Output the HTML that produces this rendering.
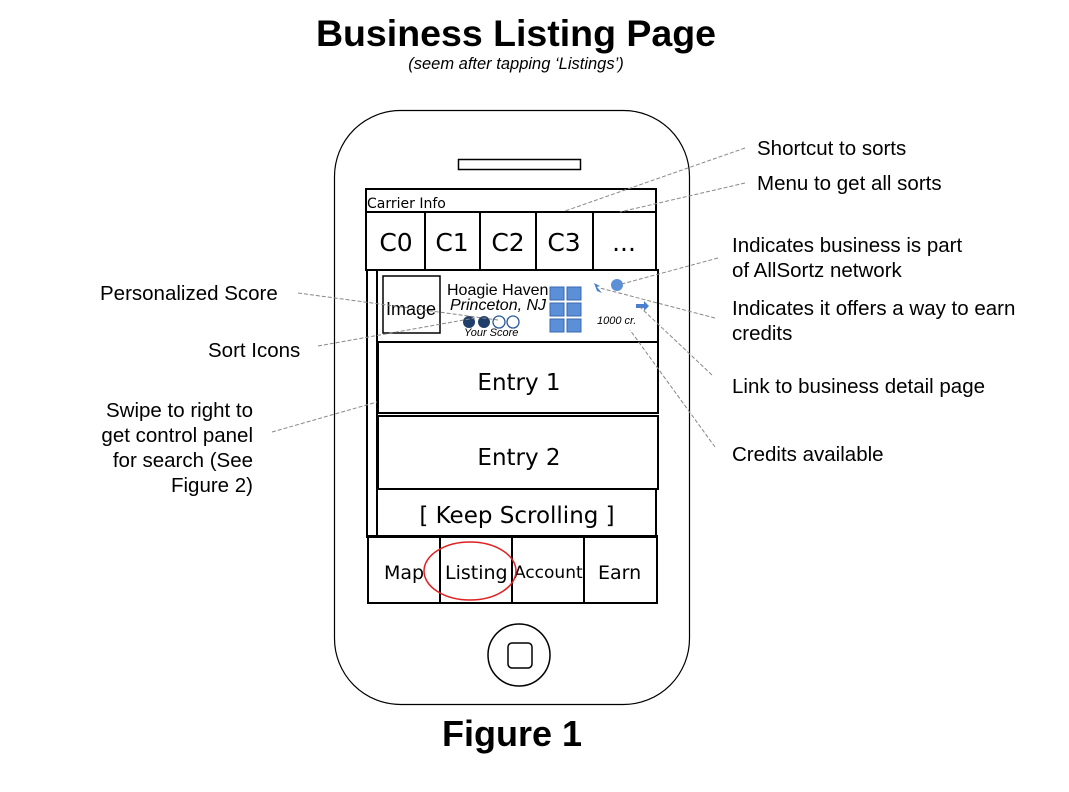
<!DOCTYPE html>
<html><head><meta charset="utf-8"><style>
html,body{margin:0;padding:0;background:#fff;}
svg{display:block;font-family:"Liberation Sans",Arial,sans-serif;}
.l{stroke:#888;stroke-width:1;stroke-dasharray:4,2;fill:none;}
.b{stroke:#000;stroke-width:2;fill:none;}
.t{font-size:20.5px;fill:#000;}
</style></head><body>
<svg width="1069" height="792" viewBox="0 0 1069 792">
<rect width="1069" height="792" fill="#fff"/>
<text x="516" y="46" text-anchor="middle" font-size="37.5" font-weight="bold">Business Listing Page</text>
<text x="516" y="69" text-anchor="middle" font-size="16.5" font-style="italic">(seem after tapping ‘Listings’)</text>
<!-- phone -->
<rect x="334.5" y="110.5" width="355" height="594" rx="66" fill="none" stroke="#000" stroke-width="1.2"/>
<rect x="458.5" y="159.5" width="122" height="10" fill="none" stroke="#000" stroke-width="1.5"/>
<circle cx="519" cy="655" r="31" fill="none" stroke="#000" stroke-width="1.5"/>
<rect x="508" y="643" width="24" height="25" rx="4" fill="none" stroke="#000" stroke-width="1.5"/>
<!-- carrier -->
<rect x="366" y="189" width="290" height="23" class="b"/>
<text x="367" y="208" font-size="14" font-family="DejaVu Sans, sans-serif">Carrier Info</text>
<rect x="366" y="212" width="290" height="58" class="b"/>
<path d="M425 212V270M480 212V270M536 212V270M593 212V270" class="b"/>
<g font-size="25" text-anchor="middle" font-family="DejaVu Sans, sans-serif">
<text x="396" y="251">C0</text><text x="452" y="251">C1</text><text x="508" y="251">C2</text><text x="564" y="251">C3</text><text x="624" y="251">...</text></g>
<!-- side bar -->
<rect x="367" y="270" width="10" height="267" class="b"/>
<!-- listing row -->
<rect x="377" y="270" width="281" height="72" class="b"/>
<rect x="383" y="276" width="57" height="57" fill="none" stroke="#000" stroke-width="1.5"/>
<text x="386" y="315" font-size="18">Image</text>
<text x="447" y="295" font-size="16">Hoagie Haven</text>
<text x="450" y="310" font-size="16" font-style="italic">Princeton, NJ</text>
<circle cx="469" cy="322" r="6" fill="#1f3f6a"/><circle cx="484" cy="322" r="6" fill="#1f3f6a"/>
<circle cx="499" cy="322" r="6" fill="none" stroke="#2a5a9a" stroke-width="1.3"/><circle cx="513" cy="322" r="6" fill="none" stroke="#2a5a9a" stroke-width="1.3"/>
<text x="464" y="336" font-size="11" font-style="italic">Your Score</text>
<g fill="#5b8fd8" stroke="#3a6ab0" stroke-width="1">
<rect x="550" y="287" width="14" height="13"/><rect x="567" y="287" width="14" height="13"/>
<rect x="550" y="303" width="14" height="13"/><rect x="567" y="303" width="14" height="13"/>
<rect x="550" y="319" width="14" height="13"/><rect x="567" y="319" width="14" height="13"/></g>
<path d="M594 283l6 3-3 1 5 6-5-2z" fill="#4a7fd0"/>
<circle cx="617" cy="285" r="6" fill="#5b8fd8"/>
<path d="M636 304h8v-3l5 5-5 5v-3h-8z" fill="#4a7fd0"/>
<text x="597" y="324" font-size="11" font-style="italic">1000 cr.</text>
<!-- entries -->
<rect x="378" y="342" width="280" height="71" class="b"/>
<text x="519" y="390" text-anchor="middle" font-size="23" font-family="DejaVu Sans, sans-serif">Entry 1</text>
<rect x="378" y="416" width="280" height="73" class="b"/>
<text x="519" y="465" text-anchor="middle" font-size="23" font-family="DejaVu Sans, sans-serif">Entry 2</text>
<rect x="377" y="489" width="279" height="48" class="b"/>
<text x="517" y="523" text-anchor="middle" font-size="23" font-family="DejaVu Sans, sans-serif">[ Keep Scrolling ]</text>
<!-- bottom tabs -->
<rect x="368" y="536" width="289" height="67" class="b"/>
<path d="M440 536V603M512 536V603M584 536V603" class="b"/>
<g font-size="19" font-family="DejaVu Sans, sans-serif">
<text x="384" y="579">Map</text><text x="445" y="579">Listing</text><text x="514" y="578" font-size="17">Account</text><text x="598" y="579">Earn</text></g>
<ellipse cx="470" cy="571" rx="46" ry="29" fill="none" stroke="#e02020" stroke-width="1.5"/>
<!-- leader lines -->
<path class="l" d="M745 148L565 211M745 183L620 212M718 258L618 285M715 318L600 288M712 375L640 307M715 447L630 330M298 293L498 320M318 346L475 318M272 432L377 402"/>
<!-- labels -->
<g class="t">
<text x="757" y="155">Shortcut to sorts</text>
<text x="757" y="190">Menu to get all sorts</text>
<text x="732" y="252">Indicates business is part</text>
<text x="732" y="277">of AllSortz network</text>
<text x="732" y="315">Indicates it offers a way to earn</text>
<text x="732" y="340">credits</text>
<text x="732" y="393">Link to business detail page</text>
<text x="732" y="461">Credits available</text>
<text x="100" y="300">Personalized Score</text>
<text x="208" y="357">Sort Icons</text>
<text x="253" y="417" text-anchor="end">Swipe to right to</text>
<text x="253" y="442" text-anchor="end">get control panel</text>
<text x="253" y="467" text-anchor="end">for search (See</text>
<text x="253" y="492" text-anchor="end">Figure 2)</text>
</g>
<text x="512" y="746" text-anchor="middle" font-size="36" font-weight="bold">Figure 1</text>
</svg>
</body></html>
